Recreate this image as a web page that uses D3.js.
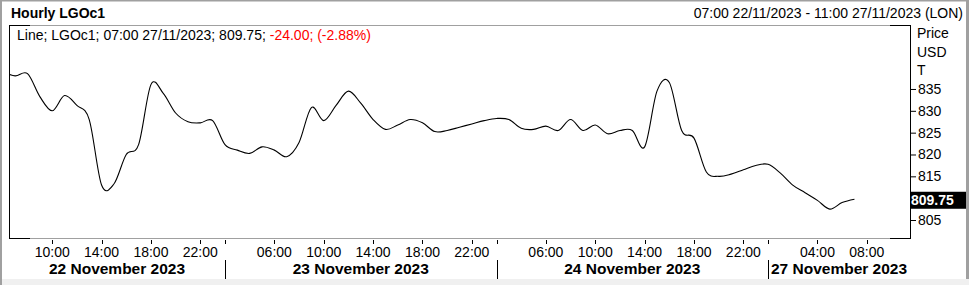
<!DOCTYPE html>
<html>
<head>
<meta charset="utf-8">
<script src="https://cdn.jsdelivr.net/npm/d3@7"></script>
<style>
  body { margin: 0; background: #fff; }
  svg { display: block; font-family: "Liberation Sans", Arial, sans-serif; }
</style>
</head>
<body>
<div id="chart-area"></div>
<script>
// hourly bars (trading hours only), first one sits just left of the view
let times = [
  "22/11 06:00","22/11 07:00","22/11 08:00","22/11 09:00","22/11 10:00","22/11 11:00","22/11 12:00","22/11 13:00",
  "22/11 14:00","22/11 15:00","22/11 16:00","22/11 17:00","22/11 18:00","22/11 19:00","22/11 20:00","22/11 21:00","22/11 22:00",
  "23/11 01:00","23/11 02:00","23/11 03:00","23/11 04:00","23/11 05:00","23/11 06:00","23/11 07:00","23/11 08:00",
  "23/11 09:00","23/11 10:00","23/11 11:00","23/11 12:00","23/11 13:00","23/11 14:00","23/11 15:00","23/11 16:00",
  "23/11 17:00","23/11 18:00","23/11 19:00","23/11 20:00","23/11 21:00","23/11 22:00",
  "24/11 01:00","24/11 02:00","24/11 03:00","24/11 04:00","24/11 05:00","24/11 06:00","24/11 07:00","24/11 08:00",
  "24/11 09:00","24/11 10:00","24/11 11:00","24/11 12:00","24/11 13:00","24/11 14:00","24/11 15:00","24/11 16:00",
  "24/11 17:00","24/11 18:00","24/11 19:00","24/11 20:00","24/11 21:00","24/11 22:00",
  "26/11 23:00","27/11 00:00","27/11 01:00","27/11 02:00","27/11 03:00","27/11 04:00","27/11 05:00","27/11 06:00",
  "27/11 07:00","27/11 08:00","27/11 09:00","27/11 10:00","27/11 11:00"
]

let prices = [
  839.00, 838.00, 838.50, 833.25, 830.00, 833.50, 831.25, 828.00, 813.00, 813.25, 820.00, 822.25, 836.00, 834.00, 829.50, 827.50, 827.25,
  827.75, 822.25, 821.00, 820.25, 821.75, 821.00, 819.50, 822.75, 830.75, 827.75, 831.25, 834.50, 831.75, 828.00, 825.75,
  826.75, 828.00, 827.25, 825.25, 825.50, 826.25, 827.00,
  827.75, 828.25, 828.00, 826.00, 825.75, 826.50, 825.50, 828.00, 825.50, 826.75, 824.75, 825.50, 825.50, 821.75,
  834.50, 836.50, 825.50, 823.75, 816.00, 815.00, 815.50, 816.50,
  817.50, 817.75, 815.75, 813.00, 811.25, 809.50, 807.50, 809.00, 809.75
]

let hourTicks = [
  "22/11 10:00","22/11 14:00","22/11 18:00","22/11 22:00",
  "23/11 06:00","23/11 10:00","23/11 14:00","23/11 18:00","23/11 22:00",
  "24/11 06:00","24/11 10:00","24/11 14:00","24/11 18:00","24/11 22:00",
  "27/11 04:00","27/11 08:00"
]
let dayTicks = ["23/11 02:00", "24/11 02:00", "27/11 00:00"]
let dayLabels = ["22 November 2023", "23 November 2023", "24 November 2023", "27 November 2023"]
let priceTicks = [805, 815, 820, 825, 830, 835]
let lastPrice = 809.75

let width = 969, height = 285
let plot = { left: 9, right: 910, top: 25, bottom: 238 }
let fs = "14px"

let svg = d3.select("#chart-area").append("svg")
  .attr("width", width)
  .attr("height", height)

let x = d3.scaleLinear()
  .domain([0.5, times.length - 0.5])
  .range([plot.left, plot.right])
let xt = (t) => x(times.indexOf(t))

let y = d3.scaleLinear()
  .domain([800.88, 849.65])
  .range([plot.bottom, plot.top])

// window chrome
svg.append("rect").attr("x", 0).attr("y", 279).attr("width", width).attr("height", 6).attr("fill", "#f0f0f0")
svg.append("rect").attr("x", 0).attr("y", 0).attr("width", 2).attr("height", height).attr("fill", "#a0a0a0")
svg.append("rect").attr("x", 0).attr("y", 0).attr("width", width).attr("height", 1.5).attr("fill", "#a0a0a0")
svg.append("rect").attr("x", 966).attr("y", 0).attr("width", 3).attr("height", 279).attr("fill", "#a0a0a0")

svg.append("text")
  .attr("x", 11).attr("y", 18)
  .style("font-size", fs).style("font-weight", "bold")
  .text("Hourly LGOc1")

svg.append("text")
  .attr("x", 963).attr("y", 18)
  .attr("text-anchor", "end")
  .style("font-size", fs)
  .text("07:00 22/11/2023 - 11:00 27/11/2023 (LON)")

// plot frame: grey edges, black corners
let frame = svg.append("g")
frame.append("line").attr("x1", plot.left).attr("x2", plot.right).attr("y1", plot.top + 0.5).attr("y2", plot.top + 0.5).attr("stroke", "#a0a0a0")
frame.append("line").attr("x1", plot.left).attr("x2", plot.right).attr("y1", plot.bottom + 0.5).attr("y2", plot.bottom + 0.5).attr("stroke", "#a0a0a0")
;[[plot.left, plot.left + 21], [plot.right - 20, plot.right]].forEach(seg => {
  ;[plot.top, plot.bottom].forEach(yy => {
    frame.append("line").attr("x1", seg[0]).attr("x2", seg[1]).attr("y1", yy + 0.5).attr("y2", yy + 0.5).attr("stroke", "#000")
  })
})
;[plot.left, plot.right].forEach(xx => {
  frame.append("line").attr("x1", xx + 0.5).attr("x2", xx + 0.5).attr("y1", plot.top).attr("y2", plot.bottom + 1).attr("stroke", "#000")
})

// line
svg.append("clipPath").attr("id", "clip")
  .append("rect").attr("x", plot.left + 1).attr("y", plot.top + 1)
  .attr("width", plot.right - plot.left - 1).attr("height", plot.bottom - plot.top - 1)

let line = d3.line()
  .x((d, i) => x(i))
  .y(d => y(d))
  .curve(d3.curveCardinal.tension(0))

svg.append("path")
  .datum(prices)
  .attr("clip-path", "url(#clip)")
  .attr("fill", "none")
  .attr("stroke", "#000")
  .attr("stroke-width", 1.1)
  .attr("d", line)

// legend
let legend = svg.append("text").attr("x", 17).attr("y", 40).style("font-size", fs)
legend.append("tspan").text("Line; LGOc1; 07:00 27/11/2023; " + lastPrice.toFixed(2) + "; ")
legend.append("tspan").attr("fill", "#ff0000").text("-24.00; (-2.88%)")

// y axis on the right
let yAxisGroup = svg.append("g").attr("transform", "translate(" + (plot.right + 1) + ",0)")
let yAxisCall = d3.axisRight(y).tickValues(priceTicks).tickSize(5).tickPadding(2)
yAxisGroup.call(yAxisCall)
yAxisGroup.select(".domain").remove()
yAxisGroup.selectAll("text").style("font-size", fs).style("font-family", "Liberation Sans, Arial, sans-serif").attr("fill", "#000")
yAxisGroup.selectAll("line").attr("stroke", "#000")

;["Price", "USD", "T"].forEach((t, i) => {
  svg.append("text").attr("x", 917).attr("y", 38 + i * 18.5).style("font-size", fs).text(t)
})

svg.append("rect")
  .attr("x", 911).attr("y", y(lastPrice) - 7.5)
  .attr("width", 55).attr("height", 17)
  .attr("fill", "#000")
svg.append("text")
  .attr("x", 911).attr("y", y(lastPrice) + 6)
  .attr("fill", "#fff")
  .style("font-size", fs).style("font-weight", "bold")
  .text(lastPrice.toFixed(2))

// x axis: hour ticks
let xAxis = svg.append("g")
hourTicks.concat(dayTicks).forEach(t => {
  let xx = Math.round(xt(t)) + 0.5
  xAxis.append("line").attr("x1", xx).attr("x2", xx).attr("y1", 240).attr("y2", 244).attr("stroke", "#000")
})
hourTicks.forEach(t => {
  xAxis.append("text")
    .attr("x", xt(t)).attr("y", 257)
    .attr("text-anchor", "middle")
    .style("font-size", fs)
    .text(t.slice(6))
})

// day separators and labels
let bounds = [plot.left].concat(dayTicks.map(xt)).concat([plot.right])
dayTicks.forEach(t => {
  let xx = Math.round(xt(t)) + 0.5
  xAxis.append("line").attr("x1", xx).attr("x2", xx).attr("y1", 260).attr("y2", 279).attr("stroke", "#000")
})
dayLabels.forEach((d, i) => {
  xAxis.append("text")
    .attr("x", (bounds[i] + bounds[i + 1]) / 2).attr("y", 274)
    .attr("text-anchor", "middle")
    .style("font-size", "15.5px").style("font-weight", "bold")
    .text(d)
})
</script>
</body>
</html>
